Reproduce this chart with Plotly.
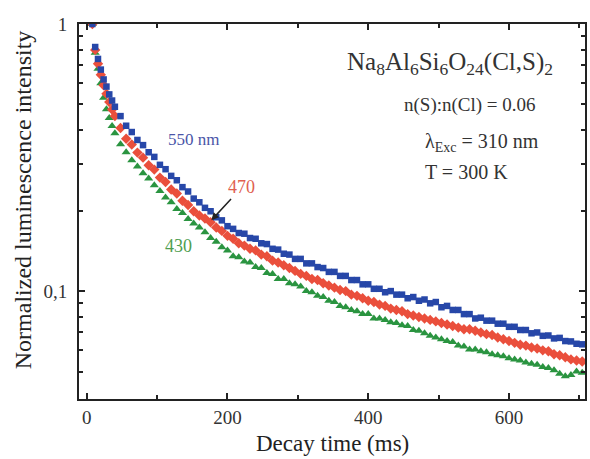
import plotly.graph_objects as go

time_ms = [8, 12, 16, 20, 24, 28, 32, 36, 40,
           48, 56, 64, 72, 80, 88, 96, 104, 112, 120, 128, 136, 144, 152, 160,
           168, 176, 184, 192, 200, 208, 216, 224, 232, 240, 248, 256, 264, 272, 280, 288, 296,
           304, 312, 320, 328, 336, 344, 352, 360, 368, 376, 384, 392, 400, 408, 416,
           424, 432, 440, 448, 456, 464, 472, 480, 488, 496, 504, 512, 520, 528, 536, 544, 552, 560,
           568, 576, 584, 592, 600, 608, 616, 624, 632, 640, 648, 656, 664, 672, 680, 688, 696, 704]

blue_550 = [1.00, 0.82, 0.74, 0.675, 0.62, 0.583, 0.545, 0.517, 0.49,
            0.452, 0.416, 0.394, 0.368, 0.352, 0.331, 0.318, 0.297, 0.286, 0.270, 0.260, 0.245, 0.236, 0.222, 0.215,
            0.205, 0.199, 0.189, 0.184, 0.175, 0.171, 0.165, 0.164, 0.158, 0.157, 0.151, 0.150, 0.144, 0.143, 0.138, 0.137, 0.132,
            0.132, 0.127, 0.127, 0.123, 0.122, 0.118, 0.118, 0.114, 0.114, 0.110, 0.110, 0.106, 0.106, 0.102, 0.102,
            0.099, 0.100, 0.097, 0.097, 0.094, 0.095, 0.092, 0.093, 0.090, 0.091, 0.087, 0.088, 0.085, 0.085, 0.082, 0.082, 0.079, 0.0795,
            0.0775, 0.0775, 0.0755, 0.0755, 0.0735, 0.0735, 0.0715, 0.0715, 0.0695, 0.0700, 0.0680, 0.0682, 0.0665, 0.0668, 0.0650, 0.0648, 0.0635, 0.0632]

red_470 = [1.00, 0.80, 0.71, 0.645, 0.59, 0.548, 0.51, 0.478, 0.452,
           0.408, 0.372, 0.354, 0.330, 0.316, 0.296, 0.285, 0.266, 0.256, 0.240, 0.232, 0.218, 0.210, 0.199, 0.192,
           0.187, 0.181, 0.173, 0.168, 0.161, 0.157, 0.151, 0.148, 0.144, 0.142, 0.137, 0.135, 0.130, 0.128, 0.125, 0.122, 0.119,
           0.116, 0.114, 0.111, 0.110, 0.107, 0.105, 0.103, 0.101, 0.100, 0.097, 0.096, 0.094, 0.092, 0.091, 0.089,
           0.088, 0.086, 0.085, 0.084, 0.082, 0.081, 0.080, 0.079, 0.078, 0.077, 0.076, 0.075, 0.074, 0.073, 0.072, 0.072, 0.071, 0.070,
           0.069, 0.0685, 0.067, 0.066, 0.065, 0.064, 0.063, 0.0625, 0.0615, 0.061, 0.060, 0.0595, 0.058, 0.0575, 0.0565, 0.0555, 0.055, 0.0545]

green_430 = [1.00, 0.78, 0.68, 0.60, 0.53, 0.48, 0.445, 0.415, 0.39,
             0.355, 0.331, 0.309, 0.293, 0.276, 0.264, 0.249, 0.237, 0.224, 0.215, 0.203, 0.196, 0.186, 0.179, 0.173,
             0.166, 0.158, 0.153, 0.146, 0.142, 0.135, 0.134, 0.129, 0.128, 0.123, 0.122, 0.117, 0.116, 0.111, 0.111, 0.107, 0.106,
             0.104, 0.100, 0.099, 0.096, 0.095, 0.092, 0.091, 0.088, 0.087, 0.085, 0.084, 0.082, 0.082, 0.079, 0.079,
             0.078, 0.0765, 0.076, 0.0745, 0.074, 0.0715, 0.071, 0.0695, 0.068, 0.067, 0.066, 0.065, 0.0645, 0.0625, 0.062, 0.0605, 0.0605, 0.0595,
             0.059, 0.058, 0.0575, 0.057, 0.056, 0.0555, 0.055, 0.054, 0.0535, 0.053, 0.052, 0.0515, 0.0505, 0.049, 0.048, 0.0485, 0.050, 0.0495]

x_ticks = [0, 200, 400, 600]
x_minor = [100, 300, 500, 700]
y_ticks = [0.1, 1]
y_ticklabels = ["0,1", "1"]
y_minor = [0.05, 0.06, 0.07, 0.08, 0.09, 0.2, 0.3, 0.4, 0.5, 0.6, 0.7, 0.8, 0.9]

SERIF = "Liberation Serif, Times New Roman, serif"
C_BLUE = "#2747a8"
C_RED = "#ea4f3c"
C_GREEN = "#2a9440"

fig = go.Figure()
fig.add_trace(go.Scatter(x=time_ms, y=green_430, mode="markers", name="430",
                         marker=dict(symbol="triangle-up", size=8, color=C_GREEN)))
fig.add_trace(go.Scatter(x=time_ms, y=red_470, mode="markers", name="470",
                         marker=dict(symbol="diamond", size=8, color=C_RED)))
fig.add_trace(go.Scatter(x=time_ms, y=blue_550, mode="markers", name="550 nm",
                         marker=dict(symbol="square", size=6.5, color=C_BLUE)))

axis_common = dict(showline=True, linecolor="#222", linewidth=2, mirror="ticks",
                   ticks="inside", ticklen=6, tickwidth=1.5, tickcolor="#222",
                   showgrid=False, zeroline=False,
                   tickfont=dict(family=SERIF, size=19, color="#333"))

fig.update_xaxes(range=[-11, 708], tickvals=x_ticks,
                 minor=dict(tickvals=x_minor, ticks="inside", ticklen=4, tickcolor="#222", showgrid=False),
                 **axis_common)
fig.update_yaxes(type="log", range=[-1.404, 0.0], tickvals=y_ticks, ticktext=y_ticklabels,
                 minor=dict(tickvals=y_minor, ticks="inside", ticklen=4, tickcolor="#222", showgrid=False),
                 ticklabelstandoff=6,
                 **axis_common)

# axis titles as paper annotations
fig.add_annotation(xref="paper", yref="paper", x=(23 - 79) / 508, y=1 - (200 - 24) / 375,
                   xanchor="center", yanchor="middle", textangle=-90, showarrow=False,
                   text="Normalized luminescence intensity",
                   font=dict(family=SERIF, size=24, color="#222"))
fig.add_annotation(xref="paper", yref="paper", x=(334 - 79) / 508, y=1 - (443 - 24) / 375,
                   xanchor="center", yanchor="middle", showarrow=False,
                   text="Decay time (ms)",
                   font=dict(family=SERIF, size=23, color="#222"))

annots = [
    dict(x=0.941, y=0.895, text="Na<sub>8</sub>Al<sub>6</sub>Si<sub>6</sub>O<sub>24</sub>(Cl,S)<sub>2</sub>",
         font=dict(size=25, color="#333")),
    dict(x=0.907, y=0.784, text="n(S):n(Cl) = 0.06", font=dict(size=19, color="#333")),
    dict(x=0.913, y=0.683, text="λ<sub>Exc</sub> = 310 nm", font=dict(size=20, color="#333")),
    dict(x=0.852, y=0.606, text="T = 300 K", font=dict(size=20, color="#333")),
]
for a in annots:
    fig.add_annotation(xref="paper", yref="paper", xanchor="right", yanchor="middle",
                       showarrow=False, x=a["x"], y=a["y"], text=a["text"],
                       font=dict(family=SERIF, **a["font"]))

fig.add_annotation(x=152, y=-0.432, xref="x", yref="y", text="550 nm", showarrow=False,
                   font=dict(family=SERIF, size=17, color="#4a55a8"))
fig.add_annotation(x=220, y=-0.61, xref="x", yref="y", text="470", showarrow=False,
                   font=dict(family=SERIF, size=18, color="#e0604f"))
fig.add_annotation(x=130, y=-0.83, xref="x", yref="y", text="430", showarrow=False,
                   font=dict(family=SERIF, size=18, color="#4f9e50"))
fig.add_annotation(x=177, y=-0.735, xref="x", yref="y", ax=207, ay=-0.65, axref="x", ayref="y",
                   text="", showarrow=True, arrowhead=2, arrowsize=1, arrowwidth=1.5, arrowcolor="#222")

fig.update_layout(width=590, height=459, margin=dict(l=79, r=3, t=24, b=60),
                  paper_bgcolor="white", plot_bgcolor="white", showlegend=False)

fig.write_html("out.html")
